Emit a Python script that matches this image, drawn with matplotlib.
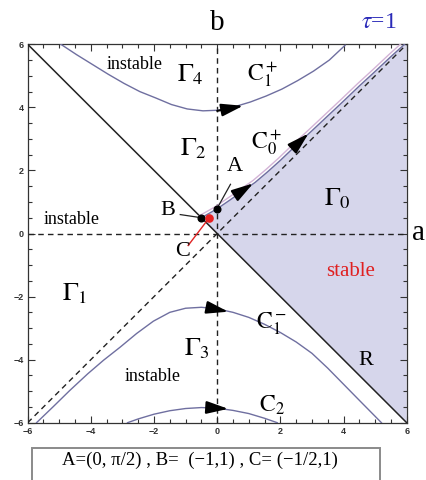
import numpy as np
import matplotlib
matplotlib.use("Agg")
import matplotlib.pyplot as plt
import matplotlib.transforms as mtransforms
from matplotlib.patches import Rectangle

# ---- trajectories in the (a, b) parameter plane ----
c1p_a = [-4.95, -4.45, -3.95, -3.45, -2.95, -2.45, -1.95, -1.45, -0.95, -0.45,
         0.05, 0.55, 1.05, 1.55, 2.05, 2.55, 3.05, 3.55, 4.05]
c1p_b = [6.00, 5.67, 5.36, 5.05, 4.76, 4.50, 4.30, 4.09, 3.95, 3.89,
         3.91, 4.02, 4.17, 4.36, 4.58, 4.85, 5.15, 5.50, 5.97]

c0p_a = [-0.50, 0.00, 0.40, 0.80, 1.20, 1.60, 2.00, 2.50, 3.00, 3.50,
         4.00, 4.50, 5.00, 5.50, 5.93]
c0p_b = [0.50, 0.785, 1.06, 1.34, 1.62, 1.96, 2.32, 2.80, 3.26, 3.73,
         4.20, 4.68, 5.14, 5.61, 6.00]

c1m_a = [-5.72, -5.20, -4.67, -4.10, -3.60, -3.08, -2.55, -2.02, -1.50, -1.00,
         -0.50, 0.00, 0.50, 1.00, 1.50, 2.00, 2.50, 3.00, 3.50, 4.00, 4.50, 5.20]
c1m_b = [-6.00, -5.50, -4.98, -4.45, -4.02, -3.61, -3.17, -2.78, -2.50, -2.37,
         -2.34, -2.39, -2.50, -2.66, -2.88, -3.14, -3.44, -3.80, -4.27, -4.78,
         -5.29, -6.00]

c2_a = [-2.84, -2.50, -2.00, -1.50, -1.00, -0.50, 0.00, 0.50, 1.00, 1.50, 1.90]
c2_b = [-6.00, -5.88, -5.73, -5.62, -5.55, -5.52, -5.54, -5.61, -5.71, -5.86, -6.00]

# direction arrows along the trajectories: (tail_a, tail_b, tip_a, tip_b)
arrows = [(0.00, 3.89, 0.82, 4.05),
          (-0.30, -2.35, 0.35, -2.48),
          (-0.30, -5.52, 0.35, -5.56),
          (0.70, 1.30, 1.14, 1.59),
          (2.45, 2.76, 2.89, 3.17)]

# marked parameter points; the axes show them at half scale
pt_A = (0.0, np.pi / 2)
pt_B = (-1.0, 1.0)
pt_C = (-0.5, 1.0)
point_scale = 0.5

lim = 6
ticks = [-6, -4, -2, 0, 2, 4, 6]

curve_col = "#6f6fa0"
shade_col = "#d6d6eb"

plt.rcParams["mathtext.fontset"] = "stix"
serif = "Liberation Serif"

fig = plt.figure(figsize=(4.27, 4.8), dpi=100)
ax = fig.add_axes([27.7 / 427, 57.3 / 480, 379 / 427, 378.4 / 480])
ax.set_xlim(-lim, lim)
ax.set_ylim(-lim, lim)

# stable region Gamma_0: above b = -a, below C0+
c0a = np.array(c0p_a)
c0b = np.array(c0p_b)
poly_a = np.concatenate([c0a, [lim, lim], [c0a[0]]])
poly_b = np.concatenate([c0b, [lim, -lim], [c0b[0]]])
ax.fill(poly_a, poly_b, color=shade_col, lw=0, zorder=1)

# reference lines
ax.plot([-lim, lim], [lim, -lim], color="#222222", lw=1.1, zorder=3)
dash = dict(color="#222222", lw=1.0, dashes=(4, 3), zorder=3)
ax.plot([-lim, lim], [-lim, lim], **dash)
ax.plot([-lim, lim], [0, 0], **dash)
ax.plot([0, 0], [-lim, lim], **dash)

# trajectories
for xs, ys in [(c1p_a, c1p_b), (c1m_a, c1m_b), (c2_a, c2_b)]:
    ax.plot(xs, ys, color=curve_col, lw=1.0, zorder=4)
glow = mtransforms.offset_copy(ax.transData, fig=fig, x=-2.0, y=2.0, units="dots")
ax.plot(c0p_a, c0p_b, color="#d3b3d6", lw=1.0, zorder=4, transform=glow)
ax.plot(c0p_a, c0p_b, color=curve_col, lw=1.0, zorder=4)

for ta, tb, ha, hb in arrows:
    ax.annotate("", xy=(ha, hb), xytext=(ta, tb),
                arrowprops=dict(arrowstyle="-|>,head_length=1.1,head_width=0.32",
                                color="black", lw=1.5, shrinkA=0, shrinkB=0,
                                mutation_scale=12),
                zorder=6)

# marked points and leader lines
Ax, Ay = pt_A[0] * point_scale, pt_A[1] * point_scale
Bx, By = pt_B[0] * point_scale, pt_B[1] * point_scale
Cx, Cy = pt_C[0] * point_scale, pt_C[1] * point_scale
ax.plot([0.42, Ax + 0.03], [1.56, Ay + 0.07], color="#222222", lw=0.9, zorder=5)
ax.plot([-1.17, Bx], [0.60, By], color="#222222", lw=0.9, zorder=5)
ax.plot([-0.92, Cx], [-0.38, Cy], color="#e02424", lw=1.0, zorder=5)
ax.plot([Ax, Bx], [Ay, By], "o", color="black", ms=4.8, zorder=7)
ax.plot([Cx], [Cy], "o", color="#e82020", ms=5.2, zorder=7)

# region and curve labels
lab = dict(ha="center", va="center", zorder=8)
ax.text(-0.85, 5.05, r"$\mathrm{\Gamma}_4$", fontsize=19, **lab)
ax.text(-0.75, 2.7, r"$\mathrm{\Gamma}_2$", fontsize=19, **lab)
ax.text(3.8, 1.1, r"$\mathrm{\Gamma}_0$", fontsize=19, **lab)
ax.text(-4.5, -1.9, r"$\mathrm{\Gamma}_1$", fontsize=19, **lab)
ax.text(-0.65, -3.65, r"$\mathrm{\Gamma}_3$", fontsize=19, **lab)
ax.text(1.45, 5.05, r"$\mathrm{C}_1^+$", fontsize=17, **lab)
ax.text(1.55, 2.9, r"$\mathrm{C}_0^+$", fontsize=17, **lab)
ax.text(1.7, -2.85, r"$\mathrm{C}_1^-$", fontsize=17, **lab)
ax.text(1.72, -5.45, r"$\mathrm{C}_2$", fontsize=17, **lab)
ax.text(0.57, 2.13, "A", fontsize=16, family=serif, **lab)
ax.text(-1.57, 0.72, "B", fontsize=16, family=serif, **lab)
ax.text(-1.11, -0.56, "C", fontsize=16, family=serif, **lab)
ax.text(4.7, -4.03, "R", fontsize=16, family=serif, **lab)
ax.text(4.22, -1.2, "stable", fontsize=15, family=serif, color="#e02020", **lab)
for xa, yb in [(-2.6, 5.37), (-4.6, 0.44), (-2.03, -4.54)]:
    ax.text(xa, yb, "instable", fontsize=13, family=serif, **lab)

# axis names
ax.text(0.5, 1.055, "b", transform=ax.transAxes, fontsize=21, family=serif,
        ha="center", va="center")
ax.text(1.03, 0.5, "a", transform=ax.transAxes, fontsize=21, family=serif,
        ha="center", va="center")
ax.text(0.925, 1.058, r"$\tau$=1", transform=ax.transAxes, fontsize=17,
        family=serif, color="#2a2ab8", ha="center", va="center")

# ticks and frame
ax.set_xticks(ticks)
ax.set_yticks(ticks)
ax.set_xticks(np.arange(-6, 6.01, 0.5), minor=True)
ax.set_yticks(np.arange(-6, 6.01, 0.5), minor=True)
ax.tick_params(which="both", direction="in", top=True, right=True,
               labelsize=6.5, colors="#333333", width=0.8)
ax.tick_params(which="major", length=5, pad=3)
ax.tick_params(which="minor", length=3)
for lbl in ax.get_xticklabels() + ax.get_yticklabels():
    lbl.set_fontweight("bold")
    lbl.set_family("Liberation Sans")
for sp in ax.spines.values():
    sp.set_linewidth(0.9)
    sp.set_color("#333333")

# caption box with the point coordinates
fig.patches.append(Rectangle((32 / 427, -0.02), 348 / 427, 0.02 + 32 / 480,
                             transform=fig.transFigure, fill=False,
                             edgecolor="#8a8a8a", lw=1.4))
fig.text(200 / 427, 20 / 480, "A=(0, π/2) , B=  (−1,1) , C= (−1/2,1)",
         fontsize=13.5, family=serif, ha="center", va="center")

fig.savefig("out.png", dpi=100)
